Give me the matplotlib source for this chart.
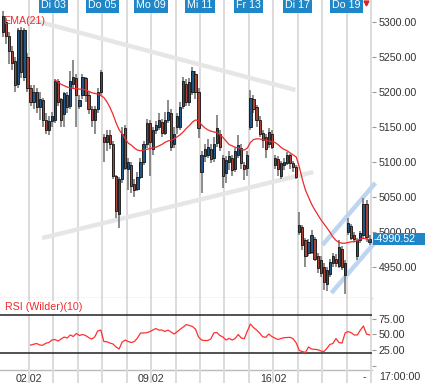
import numpy as np
import matplotlib
matplotlib.use("Agg")
import matplotlib.pyplot as plt
from matplotlib.patches import Rectangle
from matplotlib.transforms import blended_transform_factory

plt.rcParams['font.family'] = ['Liberation Sans', 'DejaVu Sans']

# ---------------- data (hourly candles, Fr 30.01 - Do 19.02) ----------------
opens = [5285, 5300, 5280, 5258, 5244, 5212, 5288, 5222, 5250,
         5205, 5185, 5200, 5178, 5188, 5160, 5145, 5158,
         5160, 5215, 5190, 5168, 5195, 5180, 5212, 5220,
         5180, 5195, 5220, 5195, 5175, 5160, 5175, 5200,
         5135, 5128, 5138, 5125, 5080, 5025, 5075, 5148,
         5090, 5095, 5068, 5062, 5078, 5100, 5125, 5155,
         5118, 5146, 5150, 5157, 5142, 5160, 5170, 5125,
         5150, 5150, 5180, 5212, 5185, 5200, 5225, 5200,
         5085, 5108, 5110, 5118, 5105, 5127, 5140, 5105,
         5084, 5100, 5105, 5090, 5110, 5120, 5096, 5092,
         5150, 5190, 5178, 5160, 5142, 5135, 5125, 5140,
         5095, 5104, 5080, 5095, 5098, 5110, 5098, 5093,
         5000, 5007, 4988, 4970, 4972, 4990, 4965, 4960,
         4950, 4925, 4940, 4955, 4962, 4952, 4975, 4938,
         5000, 5008, 4995, 4965, 4988, 4995, 5040, 4986]
highs = [5315, 5305, 5285, 5265, 5250, 5292, 5293, 5292, 5255,
         5210, 5210, 5205, 5200, 5192, 5170, 5165, 5172,
         5218, 5218, 5192, 5200, 5200, 5230, 5246, 5225,
         5195, 5225, 5222, 5200, 5180, 5180, 5205, 5232,
         5140, 5145, 5145, 5130, 5082, 5078, 5150, 5153,
         5105, 5100, 5075, 5085, 5105, 5130, 5162, 5160,
         5150, 5158, 5170, 5162, 5172, 5189, 5175, 5150,
         5170, 5185, 5221, 5218, 5220, 5236, 5230, 5205,
         5115, 5125, 5133, 5125, 5135, 5167, 5145, 5110,
         5108, 5115, 5110, 5120, 5139, 5125, 5100, 5115,
         5203, 5195, 5182, 5165, 5146, 5140, 5148, 5145,
         5110, 5108, 5102, 5105, 5114, 5112, 5102, 5096,
         5029, 5010, 4992, 4990, 5003, 4993, 4970, 4965,
         4955, 4950, 4962, 4970, 4968, 4989, 4980, 4960,
         5020, 5012, 5000, 4992, 5002, 5049, 5045, 4995]
lows = [5278, 5268, 5240, 5232, 5200, 5205, 5220, 5215, 5200,
        5180, 5175, 5170, 5160, 5150, 5140, 5138, 5150,
        5155, 5180, 5150, 5150, 5170, 5175, 5205, 5150,
        5175, 5190, 5185, 5168, 5150, 5140, 5170, 5195,
        5100, 5115, 5118, 5075, 5020, 5006, 5070, 5088,
        5060, 5055, 5050, 5058, 5075, 5095, 5120, 5080,
        5110, 5140, 5145, 5135, 5138, 5155, 5115, 5120,
        5140, 5145, 5175, 5180, 5180, 5195, 5190, 5134,
        5056, 5100, 5105, 5098, 5100, 5122, 5115, 5063,
        5070, 5088, 5080, 5085, 5105, 5090, 5074, 5080,
        5145, 5170, 5150, 5135, 5120, 5106, 5120, 5118,
        5090, 5080, 5076, 5088, 5095, 5090, 5085, 5075,
        4995, 4974, 4950, 4965, 4968, 4958, 4942, 4936,
        4917, 4915, 4935, 4950, 4950, 4948, 4945, 4912,
        4995, 4988, 4985, 4960, 4984, 4990, 4985, 4982]
closes = [5308, 5280, 5258, 5242, 5210, 5288, 5228, 5288, 5205,
          5185, 5200, 5178, 5190, 5160, 5145, 5158, 5166,
          5215, 5185, 5160, 5198, 5178, 5215, 5222, 5195,
          5188, 5222, 5195, 5175, 5160, 5175, 5200, 5228,
          5128, 5138, 5125, 5080, 5030, 5075, 5140, 5092,
          5100, 5065, 5060, 5078, 5100, 5125, 5155, 5128,
          5146, 5153, 5160, 5141, 5160, 5171, 5122, 5140,
          5165, 5178, 5215, 5185, 5214, 5230, 5200, 5148,
          5110, 5118, 5122, 5104, 5125, 5148, 5122, 5080,
          5103, 5108, 5088, 5115, 5124, 5098, 5090, 5110,
          5191, 5175, 5160, 5140, 5132, 5118, 5143, 5122,
          5105, 5090, 5098, 5100, 5110, 5098, 5093, 5078,
          5010, 4982, 4965, 4986, 4995, 4962, 4948, 4942,
          4928, 4945, 4957, 4965, 4955, 4978, 4950, 4955,
          5013, 4992, 4990, 4988, 4998, 5040, 4993, 4990.52]

ema_start = 17
ema21 = [5217, 5214, 5211, 5209, 5207, 5206, 5205, 5205,
         5204, 5204, 5203, 5201, 5199, 5198, 5197, 5195,
         5192, 5186, 5178, 5168, 5156, 5146, 5140, 5133,
         5127, 5124, 5120, 5117, 5116, 5117, 5118, 5119,
         5120, 5121, 5123, 5125, 5128, 5130, 5131, 5133,
         5136, 5139, 5143, 5148, 5152, 5157, 5160, 5159,
         5153, 5149, 5146, 5144, 5143, 5142, 5139, 5135,
         5130, 5125, 5123, 5121, 5120, 5118, 5117, 5120,
         5128, 5132, 5133, 5133, 5132, 5131, 5130, 5129,
         5128, 5125, 5121, 5118, 5116, 5113, 5110, 5107,
         5093, 5075, 5060, 5050, 5040, 5032, 5025, 5018,
         5012, 5006, 5000, 4993, 4988, 4985, 4984, 4984,
         4985, 4986, 4986, 4988, 4990, 4991, 4990, 4989]

rsi_start = 9
rsi10 = [32.9, 34.2, 35.4, 33.0, 32.6, 35.8, 37.0, 40.9,
         41.7, 39.3, 42.5, 45.7, 44.1, 48.9, 46.5, 51.3,
         48.1, 49.7, 48.1, 44.9, 42.5, 45.7, 55.3, 56.8,
         38.5, 38.2, 36.1, 34.6, 29.8, 26.6, 37.7, 40.9,
         38.5, 36.9, 38.5, 44.1, 52.1, 52.1, 52.5, 54.1,
         56.8, 59.2, 56.8, 56.8, 54.5, 56.8, 53.7, 50.5,
         54.1, 58.0, 61.6, 65.6, 64.0, 62.4, 58.4, 45.7,
         40.9, 40.1, 40.1, 42.5, 52.1, 52.9, 48.1, 45.7,
         40.9, 43.6, 40.9, 43.3, 49.7, 44.1, 43.0, 55.3,
         66.4, 60.8, 56.8, 52.1, 46.2, 45.2, 50.5, 46.5,
         44.1, 41.7, 43.3, 44.6, 44.9, 45.2, 42.8, 36.1,
         24.2, 22.6, 21.0, 29.8, 26.6, 26.1, 25.5, 23.7,
         22.3, 27.4, 33.8, 35.4, 43.3, 36.9, 36.1, 52.1,
         54.5, 52.5, 48.9, 48.9, 56.8, 63.2, 50.5, 48.9]

day_labels = ["Di 03", "Do 05", "Mo 09", "Mi 11", "Fr 13", "Di 17", "Do 19"]
day_label_pos = [8, 24, 40, 56, 72, 88, 104]
date_labels = ["02.02", "09.02", "16.02"]
date_label_pos = [0, 40, 80]
day_bounds = list(range(0, 113, 8))
last_price = 4990.52

# drawn trend lines (x in candle units, y in price)
trend_gray1_x = [0.3, 87.2]
trend_gray1_y = [5303.6, 5202.9]
trend_gray2_x = [4.3, 93.1]
trend_gray2_y = [4991.4, 5085.7]
trend_blue1_x = [96.1, 113.4]
trend_blue1_y = [4981.4, 5070.0]
trend_blue2_x = [99.0, 113.1]
trend_blue2_y = [4912.9, 4984.3]

# ---------------- figure ----------------
W, H = 425, 383
fig = plt.figure(figsize=(W / 100, H / 100), dpi=100)
fig.patch.set_facecolor('white')

ax = fig.add_axes([0, 1 - 298 / H, 372 / W, 298 / H])
axr = fig.add_axes([0, 1 - 370 / H, 372 / W, 72 / H])

x = np.arange(len(closes)) - 8.5
o = np.array(opens, float)
h = np.array(highs, float)
l = np.array(lows, float)
c = np.array(closes, float)

XL = (-9.5, 112.3)
grid_col = '#dcdcdc'
red_col = '#ee2a2a'
blue_box = '#1f87c8'

# gridlines
for a in (ax, axr):
    for gx in day_bounds:
        a.axvline(gx, color=grid_col, lw=1.4, zorder=0)
tr_ext = blended_transform_factory(axr.transData, axr.transAxes)
for gx in day_bounds:
    axr.plot([gx, gx], [-0.25, 0], color=grid_col, lw=1.4, transform=tr_ext,
             clip_on=False, zorder=3)

# trend lines
ax.plot(trend_gray1_x, trend_gray1_y, color='#e6e6e6', lw=3.2, solid_capstyle='butt', zorder=1)
ax.plot(trend_gray2_x, trend_gray2_y, color='#e6e6e6', lw=3.2, solid_capstyle='butt', zorder=1)
ax.plot(trend_blue1_x, trend_blue1_y, color='#bcd5f0', lw=3.2, solid_capstyle='butt', zorder=1, clip_on=False)
ax.plot(trend_blue2_x, trend_blue2_y, color='#bcd5f0', lw=3.2, solid_capstyle='butt', zorder=1, clip_on=False)

# candles
up = c >= o
ax.vlines(x, l, h, color='#6e6e6e', lw=1.1, zorder=2)
body_h = np.where(np.abs(c - o) < 1.5, 1.5, c - o)
ax.bar(x, body_h, bottom=o, width=0.72,
       color=np.where(up, '#1d5687', '#a84338'),
       edgecolor='#111111', linewidth=0.6, zorder=3)

# EMA
ema_x = x[ema_start:ema_start + len(ema21)]
ax.plot(ema_x, ema21, color=red_col, lw=0.9, zorder=4)

ax.set_xlim(*XL)
ax.set_ylim(4905.7, 5331.4)
ax.set_xticks([])
ax.yaxis.tick_right()
ax.set_yticks(range(4950, 5301, 50))
ax.yaxis.set_major_formatter(matplotlib.ticker.FormatStrFormatter('%.2f'))
ax.tick_params(axis='y', length=3, width=0.8, color='#9a9a9a', labelsize=7.7,
               labelcolor='#333333', pad=2)
for s in ('top', 'left', 'right'):
    ax.spines[s].set_visible(False)
ax.spines['bottom'].set_color('#cccccc')
ax.spines['bottom'].set_linewidth(1.0)

# labels inside main panel
ax.text(3 / 372, 0.928, "EMA(21)", transform=ax.transAxes, color=red_col,
        fontsize=7.7, ha='left', va='center', zorder=6)
for lab, px in zip(day_labels, day_label_pos):
    ax.text(px, 0.982, lab, transform=blended_transform_factory(ax.transData, ax.transAxes),
            color='white', fontsize=7.7, ha='center', va='center', zorder=6,
            bbox=dict(boxstyle='square,pad=0.2', facecolor=blue_box, edgecolor='none'))
ax.plot([366 / 372], [0.99], marker='v', color='#e02020', markersize=3.5,
        transform=ax.transAxes, clip_on=False, zorder=6)

# last price tag
tr_tag = blended_transform_factory(fig.transFigure, ax.transData)
ax.add_patch(Rectangle((373 / W, last_price - 8.6), 52 / W, 17.2, transform=tr_tag,
                       facecolor=blue_box, edgecolor='none', clip_on=False, zorder=7))
ax.text(374 / W, last_price, "-" + f"{last_price:.2f}", transform=tr_tag, color='white',
        fontsize=7.7, ha='left', va='center', zorder=8, clip_on=False)

# RSI panel
rsi_x = x[rsi_start:rsi_start + len(rsi10)]
axr.plot(rsi_x, rsi10, color='#ff3030', lw=0.9, zorder=4)
axr.axhline(80, color='#222222', lw=1.1, zorder=3)
axr.axhline(20, color='#222222', lw=1.1, zorder=3)
axr.set_xlim(*XL)
axr.set_ylim(-6.8, 107.8)
axr.yaxis.tick_right()
axr.set_yticks([0, 25, 50, 75])
axr.set_yticklabels(['', '25.00', '50.00', '75.00'])
axr.tick_params(axis='y', length=3, width=0.8, color='#9a9a9a', labelsize=7.7,
                labelcolor='#333333', pad=2)
axr.set_xticks(date_label_pos)
axr.set_xticklabels(date_labels)
axr.tick_params(axis='x', length=0, labelsize=7.7, labelcolor='#333333', pad=3)
for s in ('top', 'left', 'right'):
    axr.spines[s].set_visible(False)
axr.spines['bottom'].set_color('#bbbbbb')
axr.spines['bottom'].set_linewidth(1.0)
axr.text(5 / 372, 0.87, "RSI (Wilder)(10)", transform=axr.transAxes, color='#ee2a2a',
         fontsize=7.7, ha='left', va='center', zorder=6,
         bbox=dict(boxstyle='square,pad=0.15', facecolor='white', edgecolor='none'))

fig.text(364 / W, 1 - 377 / H, "-", fontsize=7.7, color='#333333', ha='center', va='center')
fig.text(400 / W, 1 - 377 / H, "17:00:00", fontsize=7.7, color='#333333', ha='center', va='center')

fig.savefig("out.png", dpi=100)
